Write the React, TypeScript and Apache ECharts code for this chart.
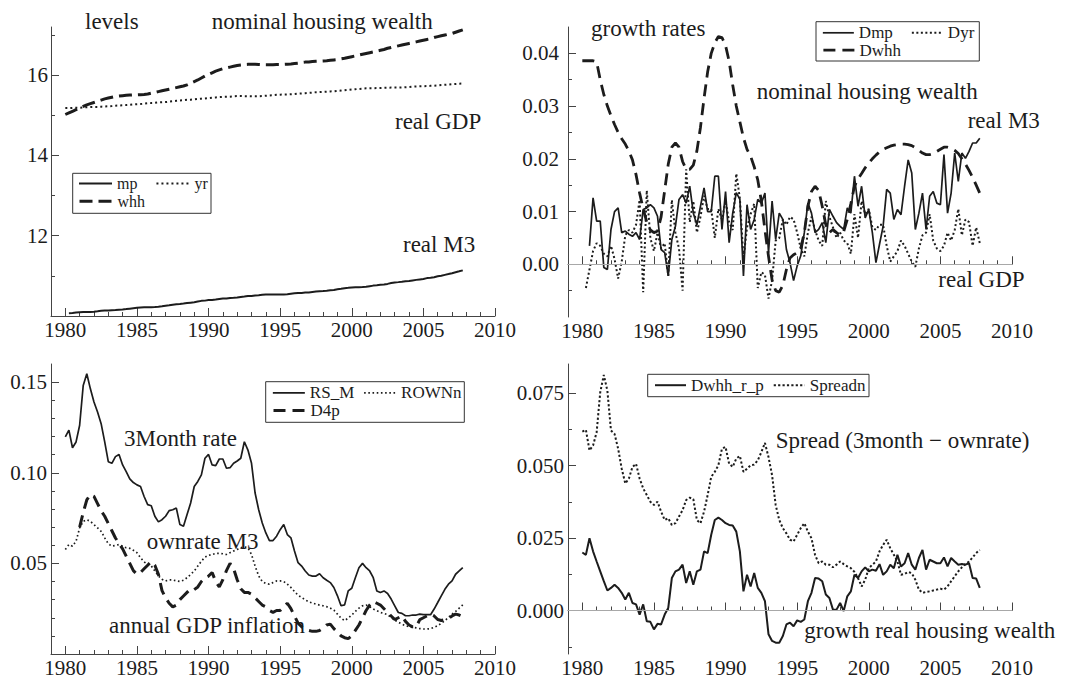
import React, { useEffect, useRef } from 'react';
import * as echarts from 'echarts';

const FONT = 'Liberation Serif, Times New Roman, serif';
const INK = '#1c1c1c';
const AXIS = '#444';

// ---------- Panel 1: levels (quarterly) ----------
const mpStart = 1980.25;
const mp = [
  10.070, 10.073, 10.086,
  10.094, 10.102, 10.101, 10.100,
  10.107, 10.117, 10.128, 10.134,
  10.140, 10.146, 10.151, 10.157,
  10.162, 10.172, 10.183, 10.194,
  10.205, 10.214, 10.217, 10.219,
  10.217, 10.222, 10.229, 10.241,
  10.254, 10.266, 10.281, 10.291,
  10.298, 10.309, 10.323, 10.333,
  10.343, 10.360, 10.377, 10.383,
  10.397, 10.401, 10.411, 10.425,
  10.437, 10.435, 10.446, 10.453,
  10.461, 10.473, 10.485, 10.498,
  10.500, 10.512, 10.517, 10.527,
  10.535, 10.538, 10.538, 10.535,
  10.535, 10.537, 10.543, 10.554,
  10.564, 10.570, 10.576, 10.584,
  10.588, 10.599, 10.608, 10.616,
  10.623, 10.630, 10.640, 10.650,
  10.667, 10.678, 10.693, 10.701,
  10.712, 10.718, 10.718, 10.722,
  10.729, 10.743, 10.757, 10.765,
  10.776, 10.785, 10.800, 10.820,
  10.837, 10.844, 10.853, 10.867,
  10.874, 10.887, 10.900, 10.912,
  10.923, 10.944, 10.954, 10.967,
  10.988, 11.004, 11.025, 11.045,
  11.067, 11.090, 11.113, 11.137,
];
const yrStart = 1980.0;
const yr = [
  15.180, 15.180, 15.185, 15.190,
  15.190, 15.195, 15.200, 15.205,
  15.210, 15.210, 15.215, 15.220,
  15.225, 15.230, 15.240, 15.245,
  15.250, 15.255, 15.260, 15.270,
  15.275, 15.280, 15.290, 15.300,
  15.305, 15.310, 15.320, 15.325,
  15.330, 15.340, 15.350, 15.360,
  15.370, 15.375, 15.385, 15.390,
  15.400, 15.410, 15.415, 15.420,
  15.430, 15.440, 15.445, 15.455,
  15.460, 15.460, 15.465, 15.475,
  15.480, 15.480, 15.478, 15.476,
  15.474, 15.472, 15.475, 15.480,
  15.488, 15.495, 15.500, 15.510,
  15.515, 15.518, 15.520, 15.525,
  15.530, 15.540, 15.545, 15.550,
  15.560, 15.565, 15.575, 15.580,
  15.585, 15.590, 15.595, 15.600,
  15.610, 15.615, 15.625, 15.635,
  15.645, 15.650, 15.657, 15.665,
  15.672, 15.675, 15.676, 15.678,
  15.680, 15.685, 15.688, 15.690,
  15.690, 15.690, 15.693, 15.699,
  15.705, 15.715, 15.720, 15.723,
  15.725, 15.728, 15.734, 15.738,
  15.745, 15.755, 15.760, 15.768,
  15.776, 15.780, 15.787, 15.791,
];
const whhStart = 1980.0;
const whh = [
  15.02, 15.06, 15.10, 15.14,
  15.18, 15.22, 15.26, 15.29,
  15.32, 15.35, 15.38, 15.41,
  15.43, 15.45, 15.47, 15.48,
  15.49, 15.50, 15.505, 15.51,
  15.51, 15.515, 15.52, 15.53,
  15.55, 15.57, 15.59, 15.61,
  15.63, 15.65, 15.67, 15.69,
  15.71, 15.73, 15.76, 15.80,
  15.84, 15.88, 15.93, 15.98,
  16.02, 16.06, 16.10, 16.13,
  16.16, 16.18, 16.20, 16.22,
  16.24, 16.255, 16.265, 16.27,
  16.275, 16.27, 16.265, 16.26,
  16.26, 16.26, 16.26, 16.265,
  16.265, 16.27, 16.275, 16.28,
  16.29, 16.30, 16.315, 16.325,
  16.33, 16.34, 16.345, 16.35,
  16.355, 16.36, 16.37, 16.38,
  16.39, 16.405, 16.42, 16.44,
  16.46, 16.48, 16.50, 16.52,
  16.54, 16.56, 16.58, 16.60,
  16.62, 16.64, 16.67, 16.69,
  16.71, 16.73, 16.75, 16.77,
  16.79, 16.81, 16.83, 16.85,
  16.87, 16.89, 16.91, 16.94,
  16.96, 16.98, 17.00, 17.02,
  17.04, 17.07, 17.10, 17.13,
];

// ---------- Panel 2: growth rates ----------
const DmpStart = 1980.5;
const Dmp = [
  0.0035, 0.0126,
  0.0082, 0.0082, -0.0006, -0.0010,
  0.0066, 0.0100, 0.0107, 0.0060,
  0.0063, 0.0057, 0.0053, 0.0060,
  0.0047, 0.0104, 0.0107, 0.0113,
  0.0107, 0.0091, 0.0028, 0.0022,
  -0.0022, 0.0047, 0.0072, 0.0123,
  0.0132, 0.0116, 0.0148, 0.0097,
  0.0075, 0.0110, 0.0145, 0.0100,
  0.0100, 0.0167, 0.0167, 0.0066,
  0.0138, 0.0041, 0.0097, 0.0136,
  0.0123, -0.0022, 0.0113, 0.0066,
  0.0085, 0.0123, 0.0116, 0.0135,
  0.0022, 0.0120, 0.0047, 0.0097,
  0.0085, 0.0028, 0.0003, -0.0031,
  -0.0003, 0.0016, 0.0060, 0.0116,
  0.0097, 0.0060, 0.0066, 0.0079,
  0.0041, 0.0104, 0.0091, 0.0079,
  0.0072, 0.0066, 0.0107, 0.0097,
  0.0167, 0.0110, 0.0148, 0.0088,
  0.0104, 0.0060, 0.0003, 0.0038,
  0.0072, 0.0142, 0.0135, 0.0085,
  0.0104, 0.0094, 0.0148, 0.0198,
  0.0173, 0.0066, 0.0097, 0.0135,
  0.0066, 0.0129, 0.0138, 0.0116,
  0.0113, 0.0208, 0.0097, 0.0135,
  0.0211, 0.0157, 0.0211, 0.0201,
  0.0214, 0.0230, 0.0230, 0.0239,
];
const DyrStart = 1980.25;
const Dyr = [
  -0.0045, -0.0010, 0.0025,
  0.0040, 0.0035, 0.0020, 0.0015,
  0.0035, 0.0010, -0.0027, 0.0005,
  0.0055, 0.0065, 0.0060, 0.0075,
  0.0122, -0.0053, 0.0140, 0.0050,
  0.0025, 0.0060, 0.0030, 0.0040,
  -0.0022, 0.0122, 0.0060, 0.0030,
  -0.0050, 0.0180, 0.0080, 0.0120,
  0.0060, 0.0090, 0.0130, 0.0105,
  0.0105, 0.0050, 0.0105, 0.0085,
  0.0120, 0.0080, 0.0065, 0.0172,
  0.0125, 0.0010, 0.0070, 0.0095,
  0.0115, -0.0045, -0.0015, -0.0020,
  -0.0065, -0.0030, 0.0045, 0.0050,
  0.0085, 0.0075, 0.0090, 0.0085,
  0.0060, 0.0030, 0.0015, 0.0060,
  0.0090, 0.0065, 0.0045, 0.0035,
  0.0120, 0.0090, 0.0070, 0.0050,
  0.0060, 0.0045, 0.0040, 0.0020,
  0.0095, 0.0050, 0.0120, 0.0095,
  0.0105, 0.0070, 0.0065, 0.0075,
  0.0075, 0.0035, 0.0005, 0.0015,
  0.0025, 0.0045, 0.0035, 0.0020,
  0.0005, -0.0005, 0.0030, 0.0055,
  0.0060, 0.0095, 0.0045, 0.0030,
  0.0025, 0.0035, 0.0060, 0.0045,
  0.0065, 0.0105, 0.0055, 0.0085,
  0.0080, 0.0035, 0.0070, 0.0040,
];
const DwhhStart = 1980.0;
const Dwhh = [
  0.0386, 0.0386, 0.0386, 0.0386,
  0.0384, 0.0350, 0.0322, 0.0300,
  0.0282, 0.0265, 0.0250, 0.0238,
  0.0228, 0.0215, 0.0198, 0.0170,
  0.0135, 0.0105, 0.0080, 0.0065,
  0.0060, 0.0063, 0.0090, 0.0140,
  0.0190, 0.0222, 0.0230, 0.0222,
  0.0195, 0.0180, 0.0180, 0.0188,
  0.0215, 0.0260, 0.0315, 0.0365,
  0.0400, 0.0420, 0.0432, 0.0430,
  0.0415, 0.0385, 0.0340, 0.0300,
  0.0270, 0.0240, 0.0218, 0.0205,
  0.0185, 0.0160, 0.0120, 0.0065,
  0.0015, -0.0030, -0.0050, -0.0053,
  -0.0040, -0.0010, 0.0012, 0.0018,
  0.0022, 0.0030, 0.0060, 0.0110,
  0.0138, 0.0148, 0.0140, 0.0110,
  0.0075, 0.0060, 0.0066, 0.0060,
  0.0055, 0.0062, 0.0085, 0.0115,
  0.0148, 0.0162, 0.0172, 0.0183,
  0.0192, 0.0200, 0.0207, 0.0213,
  0.0218, 0.0221, 0.0224, 0.0226,
  0.0227, 0.0228, 0.0228, 0.0227,
  0.0225, 0.0221, 0.0216, 0.0211,
  0.0208, 0.0208, 0.0210, 0.0214,
  0.0218, 0.0222, 0.0222, 0.0220,
  0.0216, 0.0210, 0.0200, 0.0190,
  0.0178, 0.0165, 0.0150, 0.0135,
];

// ---------- Panel 3: interest rates and inflation ----------
const RS_MStart = 1980.0;
const RS_M = [
  0.1198, 0.1235, 0.1138, 0.1170,
  0.1262, 0.1482, 0.1546, 0.1463,
  0.1390, 0.1335, 0.1271, 0.1170,
  0.1061, 0.1052, 0.1089, 0.1101,
  0.1043, 0.1006, 0.0966, 0.0946,
  0.0933, 0.0924, 0.0869, 0.0824,
  0.0818, 0.0760, 0.0729, 0.0741,
  0.0760, 0.0791, 0.0796, 0.0805,
  0.0714, 0.0705, 0.0769, 0.0833,
  0.0924, 0.0952, 0.0988, 0.1080,
  0.1101, 0.1043, 0.1039, 0.1076,
  0.1076, 0.1025, 0.1028, 0.1052,
  0.1065, 0.1080, 0.1171, 0.1125,
  0.1052, 0.0888, 0.0796, 0.0723,
  0.0668, 0.0626, 0.0626, 0.0650,
  0.0686, 0.0714, 0.0659, 0.0641,
  0.0568, 0.0504, 0.0485, 0.0458,
  0.0436, 0.0430, 0.0430, 0.0443,
  0.0421, 0.0407, 0.0394, 0.0367,
  0.0321, 0.0266, 0.0271, 0.0348,
  0.0363, 0.0421, 0.0476, 0.0500,
  0.0476, 0.0458, 0.0421, 0.0348,
  0.0339, 0.0348, 0.0334, 0.0303,
  0.0266, 0.0229, 0.0224, 0.0211,
  0.0211, 0.0215, 0.0215, 0.0220,
  0.0217, 0.0217, 0.0217, 0.0248,
  0.0284, 0.0321, 0.0357, 0.0385,
  0.0403, 0.0440, 0.0458, 0.0476,
];
const ROWNnStart = 1980.0;
const ROWNn = [
  0.0577, 0.0604, 0.0595, 0.0622,
  0.0696, 0.0732, 0.0741, 0.0732,
  0.0714, 0.0696, 0.0677, 0.0641,
  0.0608, 0.0595, 0.0599, 0.0604,
  0.0595, 0.0586, 0.0583, 0.0572,
  0.0559, 0.0532, 0.0508, 0.0495,
  0.0486, 0.0458, 0.0431, 0.0412,
  0.0403, 0.0409, 0.0409, 0.0403,
  0.0400, 0.0407, 0.0421, 0.0439,
  0.0458, 0.0485, 0.0512, 0.0534,
  0.0544, 0.0549, 0.0555, 0.0555,
  0.0553, 0.0549, 0.0559, 0.0568,
  0.0577, 0.0586, 0.0591, 0.0586,
  0.0549, 0.0485, 0.0431, 0.0400,
  0.0389, 0.0385, 0.0394, 0.0403,
  0.0403, 0.0400, 0.0385, 0.0367,
  0.0345, 0.0324, 0.0312, 0.0299,
  0.0288, 0.0281, 0.0275, 0.0270,
  0.0266, 0.0261, 0.0253, 0.0242,
  0.0220, 0.0198, 0.0184, 0.0198,
  0.0215, 0.0235, 0.0253, 0.0266,
  0.0270, 0.0261, 0.0248, 0.0239,
  0.0229, 0.0224, 0.0217, 0.0202,
  0.0187, 0.0175, 0.0165, 0.0156,
  0.0151, 0.0147, 0.0144, 0.0140,
  0.0138, 0.0138, 0.0140, 0.0147,
  0.0156, 0.0169, 0.0184, 0.0202,
  0.0220, 0.0235, 0.0253, 0.0271,
];
const D4pStart = 1981.0;
const D4p = [
  0.0700, 0.0780, 0.0850, 0.0880,
  0.0870, 0.0830, 0.0790, 0.0760,
  0.0720, 0.0680, 0.0640, 0.0610,
  0.0580, 0.0540, 0.0500, 0.0460,
  0.0440, 0.0450, 0.0470, 0.0490,
  0.0510, 0.0490, 0.0440, 0.0350,
  0.0310, 0.0280, 0.0260, 0.0270,
  0.0300, 0.0320, 0.0340, 0.0360,
  0.0355, 0.0370, 0.0400, 0.0420,
  0.0430, 0.0450, 0.0400, 0.0370,
  0.0410, 0.0460, 0.0500, 0.0470,
  0.0410, 0.0360, 0.0340, 0.0340,
  0.0330, 0.0310, 0.0290, 0.0270,
  0.0260, 0.0240, 0.0230, 0.0240,
  0.0240, 0.0260, 0.0280, 0.0250,
  0.0210, 0.0170, 0.0150, 0.0140,
  0.0130, 0.0125, 0.0125, 0.0130,
  0.0143, 0.0160, 0.0165, 0.0140,
  0.0120, 0.0100, 0.0090, 0.0085,
  0.0100, 0.0130, 0.0160, 0.0200,
  0.0240, 0.0270, 0.0290, 0.0280,
  0.0270, 0.0250, 0.0230, 0.0210,
  0.0190, 0.0200, 0.0210, 0.0180,
  0.0160, 0.0150, 0.0150, 0.0190,
  0.0200, 0.0210, 0.0220, 0.0210,
  0.0190, 0.0185, 0.0190, 0.0195,
  0.0210, 0.0220, 0.0215, 0.0206,
];

// ---------- Panel 4: real housing wealth growth and spread ----------
const Dwhh_r_pStart = 1980.0;
const Dwhh_r_p = [
  0.0200, 0.0192, 0.0249, 0.0204,
  0.0169, 0.0135, 0.0101, 0.0069,
  0.0078, 0.0089, 0.0078, 0.0061,
  0.0038, 0.0061, 0.0026, 0.0021,
  -0.0014, 0.0021, -0.0037, -0.0039,
  -0.0065, -0.0046, -0.0048, -0.0014,
  0.0009, 0.0112, 0.0135, 0.0141,
  0.0158, 0.0095, 0.0135, 0.0089,
  0.0135, 0.0141, 0.0204, 0.0198,
  0.0261, 0.0312, 0.0320, 0.0312,
  0.0301, 0.0295, 0.0293, 0.0272,
  0.0204, 0.0066, 0.0123, 0.0083,
  0.0129, 0.0078, 0.0061, 0.0032,
  -0.0082, -0.0105, -0.0111, -0.0111,
  -0.0088, -0.0048, -0.0042, -0.0054,
  -0.0034, -0.0039, -0.0031, 0.0032,
  0.0061, 0.0112, 0.0110, 0.0101,
  0.0055, 0.0043, 0.0003, 0.0003,
  0.0026, -0.0002, 0.0049, 0.0066,
  0.0123, 0.0112, 0.0135, 0.0149,
  0.0135, 0.0141, 0.0137, 0.0160,
  0.0123, 0.0135, 0.0158, 0.0146,
  0.0192, 0.0152, 0.0163, 0.0198,
  0.0158, 0.0141, 0.0181, 0.0209,
  0.0141, 0.0175, 0.0169, 0.0163,
  0.0163, 0.0183, 0.0152, 0.0181,
  0.0169, 0.0158, 0.0160, 0.0158,
  0.0163, 0.0112, 0.0110, 0.0078,
];
const SpreadnStart = 1980.0;
const Spreadn = [
  0.0617, 0.0623, 0.0552, 0.0569,
  0.0615, 0.0752, 0.0812, 0.0758,
  0.0621, 0.0609, 0.0558, 0.0489,
  0.0438, 0.0455, 0.0495, 0.0506,
  0.0455, 0.0421, 0.0398, 0.0375,
  0.0364, 0.0375, 0.0341, 0.0312,
  0.0318, 0.0295, 0.0301, 0.0324,
  0.0346, 0.0381, 0.0389, 0.0384,
  0.0312, 0.0301, 0.0341, 0.0398,
  0.0461, 0.0478, 0.0501, 0.0558,
  0.0564, 0.0506, 0.0495, 0.0524,
  0.0533, 0.0478, 0.0489, 0.0501,
  0.0503, 0.0518, 0.0546, 0.0578,
  0.0529, 0.0466, 0.0364, 0.0312,
  0.0284, 0.0266, 0.0244, 0.0238,
  0.0261, 0.0284, 0.0301, 0.0272,
  0.0249, 0.0192, 0.0163, 0.0169,
  0.0158, 0.0158, 0.0149, 0.0158,
  0.0169, 0.0160, 0.0152, 0.0146,
  0.0133, 0.0112, 0.0083, 0.0106,
  0.0146, 0.0158, 0.0169, 0.0204,
  0.0226, 0.0244, 0.0215, 0.0192,
  0.0169, 0.0123, 0.0126, 0.0133,
  0.0129, 0.0106, 0.0072, 0.0061,
  0.0064, 0.0066, 0.0069, 0.0072,
  0.0075, 0.0072, 0.0083, 0.0101,
  0.0118, 0.0135, 0.0149, 0.0160,
  0.0169, 0.0183, 0.0198, 0.0209,
];

// ---------- axis ticks ----------
const yearLabels = [1980, 1985, 1990, 1995, 2000, 2005, 2010];
const yearMinor: number[] = [];
for (let y = 1980; y <= 2010; y++) if (y % 5 !== 0) yearMinor.push(y);

const p1Major = [12, 14, 16];
const p1Minor = [11, 13, 15, 17];
const p2Major = [0, 0.01, 0.02, 0.03, 0.04];
const p2Minor = [-0.005, 0.005, 0.015, 0.025, 0.035];
const p3Major = [0.05, 0.1, 0.15];
const p3Minor = [0.01, 0.02, 0.03, 0.04, 0.06, 0.07, 0.08, 0.09, 0.11, 0.12, 0.13, 0.14];
const p4Major = [0, 0.025, 0.05, 0.075];
const p4Minor = [-0.0125, 0.0125, 0.0375, 0.0625];

const q = (start: number, vals: number[]) => vals.map((v, i) => [start + i * 0.25, v]);

const tickFont = { fontSize: 21, fontFamily: FONT, color: INK, fontWeight: 'normal' as const };

function xAxesFor(gridIndex: number) {
  const base = {
    type: 'value', gridIndex, min: 1979, max: 2010, position: 'bottom',
    splitLine: { show: false },
  };
  return [
    {
      ...base,
      axisLine: { show: true, lineStyle: { color: AXIS, width: 1 } },
      axisTick: { show: true, inside: true, length: 8, customValues: yearLabels, lineStyle: { color: AXIS } },
      axisLabel: {
        show: true, customValues: yearLabels, margin: 3, lineHeight: 21, ...tickFont,
        formatter: (v: number) => String(Math.round(v)),
      },
    },
    {
      ...base,
      axisLine: { show: false },
      axisTick: { show: true, inside: true, length: 4, customValues: yearMinor, lineStyle: { color: AXIS } },
      axisLabel: { show: false },
    },
  ];
}

function yAxesFor(gridIndex: number, min: number, max: number, major: number[], minor: number[],
  fmt: (v: number) => string, margin: number) {
  const base = { type: 'value', gridIndex, min, max, position: 'left', splitLine: { show: false } };
  return [
    {
      ...base,
      axisLine: { show: true, lineStyle: { color: AXIS, width: 1 } },
      axisTick: { show: true, inside: true, length: 8, customValues: major, lineStyle: { color: AXIS } },
      axisLabel: { show: true, customValues: major, margin, ...tickFont, formatter: fmt },
    },
    {
      ...base,
      axisLine: { show: false },
      axisTick: { show: true, inside: true, length: 4, customValues: minor, lineStyle: { color: AXIS } },
      axisLabel: { show: false },
    },
  ];
}

function line(name: string, g: number, data: number[][], width: number, type: any, extra: any = {}) {
  return {
    name, type: 'line', xAxisIndex: 2 * g, yAxisIndex: 2 * g, data,
    symbol: 'none', showSymbol: false, silent: true,
    lineStyle: { color: INK, width, type, cap: 'butt' },
    itemStyle: { color: INK },
    ...extra,
  };
}

const zeroLine = {
  markLine: {
    silent: true, symbol: 'none', label: { show: false },
    lineStyle: { color: '#a8a8a8', type: 'solid', width: 1 },
    data: [{ yAxis: 0 }],
  },
};

function legendRow(names: string[], left: number, centerY: number, fontSize: number, itemWidth: number, itemGap: number) {
  return {
    data: names, left, top: centerY - fontSize / 2 - 0.5, orient: 'horizontal', padding: 0,
    itemWidth, itemHeight: 14, itemGap, selectedMode: false,
    itemStyle: { opacity: 0 },
    lineStyle: { width: 'inherit' },
    textStyle: { fontSize, fontFamily: FONT, color: INK, lineHeight: fontSize },
  };
}

function box(x: number, y: number, w: number, h: number) {
  return {
    type: 'rect', silent: true, shape: { x, y, width: w, height: h },
    style: { fill: 'none', stroke: '#333', lineWidth: 1 },
  };
}

function label(text: string, x: number, y: number) {
  return {
    type: 'text', silent: true, x, y,
    style: { text, fontSize: 23, fontFamily: FONT, fill: INK, align: 'left', verticalAlign: 'middle' },
  };
}

const f2 = (v: number) => v.toFixed(2);
const f3 = (v: number) => v.toFixed(3);

export default function App() {
  const ref = useRef<HTMLDivElement>(null);
  useEffect(() => {
    document.body.style.margin = '0';
    const chart = echarts.init(ref.current!, null, { renderer: 'svg' });
    const option: any = {
      animation: false,
      backgroundColor: '#ffffff',
      textStyle: { fontFamily: FONT },
      grid: [
        { left: 51, top: 27, width: 444, height: 289, outerBoundsMode: 'none' },
        { left: 568, top: 27, width: 444, height: 290, outerBoundsMode: 'none' },
        { left: 51, top: 364, width: 444, height: 290, outerBoundsMode: 'none' },
        { left: 568, top: 364, width: 444, height: 290, outerBoundsMode: 'none' },
      ],
      xAxis: [...xAxesFor(0), ...xAxesFor(1), ...xAxesFor(2), ...xAxesFor(3)],
      yAxis: [
        ...yAxesFor(0, 10, 17.2, p1Major, p1Minor, (v) => String(Math.round(v)), 3),
        ...yAxesFor(1, -0.01, 0.045, p2Major, p2Minor, f2, 9),
        ...yAxesFor(2, 0, 0.16, p3Major, p3Minor, f2, 4),
        ...yAxesFor(3, -0.015, 0.085, p4Major, p4Minor, f3, 4),
      ],
      legend: [
        legendRow(['mp', 'yr'], 78, 184, 16, 33, 18),
        legendRow(['whh'], 78, 201.7, 16, 33, 18),
        legendRow(['Dmp', 'Dyr'], 822, 33.3, 17, 31, 18),
        legendRow(['Dwhh'], 822, 50.7, 17, 31, 18),
        legendRow(['RS_M', 'ROWNn'], 272, 393.3, 17, 32, 9),
        legendRow(['D4p'], 272, 411, 17, 32, 9),
        legendRow(['Dwhh_r_p', 'Spreadn'], 654, 385.7, 17, 31, 9),
      ],
      series: [
        line('mp', 0, q(mpStart, mp), 2, 'solid'),
        line('yr', 0, q(yrStart, yr), 2, [2, 3]),
        line('whh', 0, q(whhStart, whh), 3, [13, 6]),
        line('Dmp', 1, q(DmpStart, Dmp), 1.7, 'solid', zeroLine),
        line('Dyr', 1, q(DyrStart, Dyr), 2, [2, 2.5]),
        line('Dwhh', 1, q(DwhhStart, Dwhh), 2.8, [12, 7]),
        line('RS_M', 2, q(RS_MStart, RS_M), 1.7, 'solid'),
        line('ROWNn', 2, q(ROWNnStart, ROWNn), 1.7, [1.6, 2.6]),
        line('D4p', 2, q(D4pStart, D4p), 3, [12, 7]),
        line('Dwhh_r_p', 3, q(Dwhh_r_pStart, Dwhh_r_p), 2, 'solid', zeroLine),
        line('Spreadn', 3, q(SpreadnStart, Spreadn), 2, [2.2, 2.2]),
      ],
      graphic: [
        box(72.7, 173.3, 138.3, 40),
        box(816, 21.7, 163.3, 39.3),
        box(265.7, 381.7, 198.6, 40.6),
        box(647.7, 374.3, 221.3, 22.4),
        label('levels', 85, 21.9),
        label('nominal housing wealth', 211.7, 21.9),
        label('real GDP', 395, 121.9),
        label('real M3', 403, 244.9),
        label('growth rates', 591, 28.5),
        label('nominal housing wealth', 756.7, 91.5),
        label('real M3', 967.7, 120.9),
        label('real GDP', 938.3, 279.9),
        label('3Month rate', 124, 438.5),
        label('ownrate M3', 146.7, 541.5),
        label('annual GDP inflation', 109, 625.8),
        label('Spread (3month \u2212 ownrate)', 775.7, 440.8),
        label('growth real housing wealth', 804.3, 630.5),
      ],
    };
    chart.setOption(option);
    return () => chart.dispose();
  }, []);
  return <div ref={ref} style={{ width: 1075, height: 679, background: '#fff' }} />;
}
